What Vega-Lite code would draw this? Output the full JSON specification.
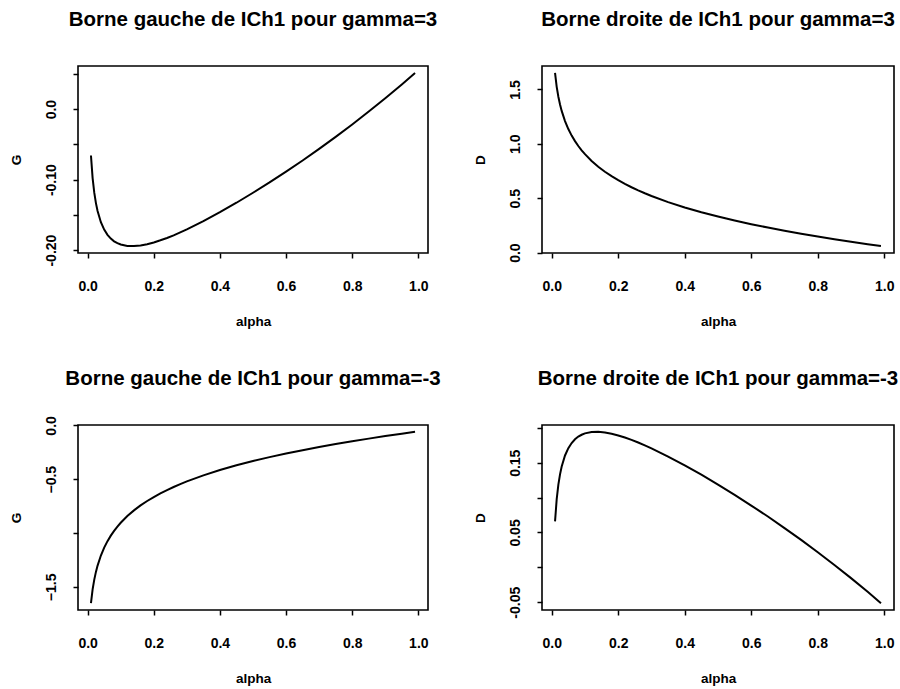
{
  "$schema": "https://vega.github.io/schema/vega-lite/v6.json",
  "background": "white",
  "padding": {"left": 8, "top": 8, "right": 0, "bottom": 0},
  "bounds": "flush",
  "columns": 2,
  "spacing": {"row": 172, "column": 114},
  "datasets": {
    "ich": [
      {"alpha": 0.01, "G_g3": -0.0658, "D_g3": 1.6514, "G_gm3": -1.6514, "D_gm3": 0.0658},
      {"alpha": 0.015, "G_g3": -0.0978, "D_g3": 1.5238, "G_gm3": -1.5238, "D_gm3": 0.0978},
      {"alpha": 0.02, "G_g3": -0.1185, "D_g3": 1.4323, "G_gm3": -1.4323, "D_gm3": 0.1185},
      {"alpha": 0.025, "G_g3": -0.1333, "D_g3": 1.3609, "G_gm3": -1.3609, "D_gm3": 0.1333},
      {"alpha": 0.03, "G_g3": -0.1445, "D_g3": 1.3023, "G_gm3": -1.3023, "D_gm3": 0.1445},
      {"alpha": 0.04, "G_g3": -0.1604, "D_g3": 1.2088, "G_gm3": -1.2088, "D_gm3": 0.1604},
      {"alpha": 0.05, "G_g3": -0.1709, "D_g3": 1.1357, "G_gm3": -1.1357, "D_gm3": 0.1709},
      {"alpha": 0.06, "G_g3": -0.1783, "D_g3": 1.0755, "G_gm3": -1.0755, "D_gm3": 0.1783},
      {"alpha": 0.07, "G_g3": -0.1837, "D_g3": 1.0244, "G_gm3": -1.0244, "D_gm3": 0.1837},
      {"alpha": 0.08, "G_g3": -0.1875, "D_g3": 0.9797, "G_gm3": -0.9797, "D_gm3": 0.1875},
      {"alpha": 0.09, "G_g3": -0.1901, "D_g3": 0.9401, "G_gm3": -0.9401, "D_gm3": 0.1901},
      {"alpha": 0.10, "G_g3": -0.1921, "D_g3": 0.9045, "G_gm3": -0.9045, "D_gm3": 0.1921},
      {"alpha": 0.12, "G_g3": -0.1941, "D_g3": 0.8425, "G_gm3": -0.8425, "D_gm3": 0.1941},
      {"alpha": 0.14, "G_g3": -0.1943, "D_g3": 0.7895, "G_gm3": -0.7895, "D_gm3": 0.1943},
      {"alpha": 0.16, "G_g3": -0.1934, "D_g3": 0.7434, "G_gm3": -0.7434, "D_gm3": 0.1934},
      {"alpha": 0.18, "G_g3": -0.1916, "D_g3": 0.7022, "G_gm3": -0.7022, "D_gm3": 0.1916},
      {"alpha": 0.20, "G_g3": -0.1891, "D_g3": 0.6653, "G_gm3": -0.6653, "D_gm3": 0.1891},
      {"alpha": 0.22, "G_g3": -0.1861, "D_g3": 0.6315, "G_gm3": -0.6315, "D_gm3": 0.1861},
      {"alpha": 0.24, "G_g3": -0.1828, "D_g3": 0.6007, "G_gm3": -0.6007, "D_gm3": 0.1828},
      {"alpha": 0.26, "G_g3": -0.1790, "D_g3": 0.5721, "G_gm3": -0.5721, "D_gm3": 0.1790},
      {"alpha": 0.28, "G_g3": -0.1749, "D_g3": 0.5454, "G_gm3": -0.5454, "D_gm3": 0.1749},
      {"alpha": 0.30, "G_g3": -0.1706, "D_g3": 0.5204, "G_gm3": -0.5204, "D_gm3": 0.1706},
      {"alpha": 0.35, "G_g3": -0.1589, "D_g3": 0.4642, "G_gm3": -0.4642, "D_gm3": 0.1589},
      {"alpha": 0.40, "G_g3": -0.1462, "D_g3": 0.4148, "G_gm3": -0.4148, "D_gm3": 0.1462},
      {"alpha": 0.45, "G_g3": -0.1328, "D_g3": 0.3708, "G_gm3": -0.3708, "D_gm3": 0.1328},
      {"alpha": 0.50, "G_g3": -0.1186, "D_g3": 0.3310, "G_gm3": -0.3310, "D_gm3": 0.1186},
      {"alpha": 0.55, "G_g3": -0.1040, "D_g3": 0.2946, "G_gm3": -0.2946, "D_gm3": 0.1040},
      {"alpha": 0.60, "G_g3": -0.0886, "D_g3": 0.2610, "G_gm3": -0.2610, "D_gm3": 0.0886},
      {"alpha": 0.65, "G_g3": -0.0729, "D_g3": 0.2298, "G_gm3": -0.2298, "D_gm3": 0.0729},
      {"alpha": 0.70, "G_g3": -0.0563, "D_g3": 0.2005, "G_gm3": -0.2005, "D_gm3": 0.0563},
      {"alpha": 0.75, "G_g3": -0.0393, "D_g3": 0.1731, "G_gm3": -0.1731, "D_gm3": 0.0393},
      {"alpha": 0.80, "G_g3": -0.0217, "D_g3": 0.1471, "G_gm3": -0.1471, "D_gm3": 0.0217},
      {"alpha": 0.85, "G_g3": -0.0034, "D_g3": 0.1226, "G_gm3": -0.1226, "D_gm3": 0.0034},
      {"alpha": 0.90, "G_g3": 0.0155, "D_g3": 0.0993, "G_gm3": -0.0993, "D_gm3": -0.0155},
      {"alpha": 0.95, "G_g3": 0.0351, "D_g3": 0.0769, "G_gm3": -0.0769, "D_gm3": -0.0351},
      {"alpha": 0.99, "G_g3": 0.0514, "D_g3": 0.0598, "G_gm3": -0.0598, "D_gm3": -0.0514}
    ]
  },
  "config": {
    "view": {"stroke": "black", "strokeWidth": 1.6},
    "font": "Liberation Sans",
    "axis": {
      "domain": false, "grid": false,
      "ticks": true, "tickColor": "black", "tickSize": 5, "tickWidth": 1.5,
      "labelColor": "black", "labelFont": "Liberation Sans", "labelFontSize": 14, "labelFontWeight": "bold",
      "labelOverlap": false, "labelFlush": false, "labelBound": false,
      "titleColor": "black", "titleFont": "Liberation Sans", "titleFontSize": 13.5, "titleFontWeight": "bold"
    },
    "axisX": {"labelPadding": 21, "titlePadding": 21},
    "axisY": {"labelAngle": -90, "labelPadding": 15, "titlePadding": 21},
    "title": {"font": "Liberation Sans", "fontSize": 20.5, "fontWeight": "bold", "color": "black", "anchor": "middle", "frame": "group", "offset": 36}
  },
  "concat": [
    {
      "width": 350, "height": 187,
      "title": "Borne gauche de ICh1 pour gamma=3",
      "data": {"name": "ich"},
      "mark": {"type": "line", "color": "black", "strokeWidth": 2},
      "encoding": {
        "x": {"field": "alpha", "type": "quantitative", "scale": {"domain": [-0.0292, 1.0292], "nice": false, "zero": false},
              "axis": {"title": "alpha", "values": [0, 0.2, 0.4, 0.6, 0.8, 1], "format": ".1f"}},
        "y": {"field": "G_g3", "type": "quantitative", "scale": {"domain": [-0.2041, 0.0612], "nice": false, "zero": false},
              "axis": {"title": "G", "values": [-0.2, -0.15, -0.1, -0.05, 0, 0.05],
                       "labelExpr": "datum.value == -0.2 ? '-0.20' : datum.value == -0.1 ? '-0.10' : datum.value == 0 ? '0.0' : ''"}}
      }
    },
    {
      "width": 352, "height": 187,
      "title": "Borne droite de ICh1 pour gamma=3",
      "data": {"name": "ich"},
      "mark": {"type": "line", "color": "black", "strokeWidth": 2},
      "encoding": {
        "x": {"field": "alpha", "type": "quantitative", "scale": {"domain": [-0.0292, 1.0292], "nice": false, "zero": false},
              "axis": {"title": "alpha", "values": [0, 0.2, 0.4, 0.6, 0.8, 1], "format": ".1f"}},
        "y": {"field": "D_g3", "type": "quantitative", "scale": {"domain": [-0.0039, 1.7151], "nice": false, "zero": false},
              "axis": {"title": "D", "values": [0, 0.5, 1, 1.5], "format": ".1f"}}
      }
    },
    {
      "width": 350, "height": 185,
      "title": {"text": "Borne gauche de ICh1 pour gamma=-3", "offset": 26},
      "data": {"name": "ich"},
      "mark": {"type": "line", "color": "black", "strokeWidth": 2},
      "encoding": {
        "x": {"field": "alpha", "type": "quantitative", "scale": {"domain": [-0.0292, 1.0292], "nice": false, "zero": false},
              "axis": {"title": "alpha", "values": [0, 0.2, 0.4, 0.6, 0.8, 1], "format": ".1f"}},
        "y": {"field": "G_gm3", "type": "quantitative", "scale": {"domain": [-1.7151, 0.0039], "nice": false, "zero": false},
              "axis": {"title": "G", "values": [-1.5, -1, -0.5, 0],
                       "labelExpr": "datum.value == -1 ? '' : format(datum.value, '.1f')"}}
      }
    },
    {
      "width": 352, "height": 185,
      "title": "Borne droite de ICh1 pour gamma=-3",
      "data": {"name": "ich"},
      "mark": {"type": "line", "color": "black", "strokeWidth": 2},
      "encoding": {
        "x": {"field": "alpha", "type": "quantitative", "scale": {"domain": [-0.0292, 1.0292], "nice": false, "zero": false},
              "axis": {"title": "alpha", "values": [0, 0.2, 0.4, 0.6, 0.8, 1], "format": ".1f"}},
        "y": {"field": "D_gm3", "type": "quantitative", "scale": {"domain": [-0.0612, 0.2041], "nice": false, "zero": false},
              "axis": {"title": "D", "values": [-0.05, 0, 0.05, 0.1, 0.15, 0.2],
                       "labelExpr": "datum.value == -0.05 ? '-0.05' : datum.value == 0.05 ? '0.05' : datum.value == 0.15 ? '0.15' : ''"}}
      }
    }
  ]
}
